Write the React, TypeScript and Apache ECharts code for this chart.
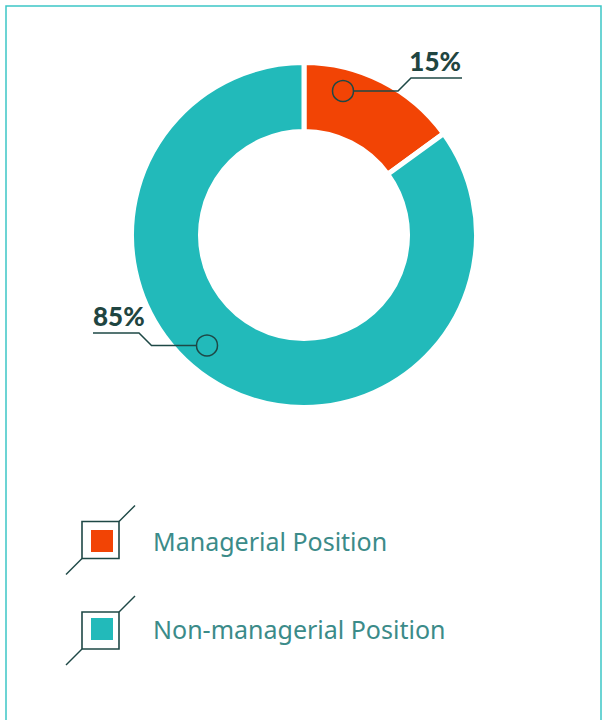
import React, { useEffect, useRef } from "react";
import * as echarts from "echarts";

const categories = ["Managerial Position", "Non-managerial Position"];
const values = [15, 85];
const colors = ["#f24405", "#22baba"];

const LINE = "#1e4846";
const LABEL = "#1f4541";
const LEGEND_TEXT = "#3b8b89";

export default function App() {
  const ref = useRef<HTMLDivElement>(null);
  useEffect(() => {
    if (!ref.current) return;
    const chart = echarts.init(ref.current, undefined, { renderer: "svg" });
    const labelText = values.map((v) => `${v}%`);
    const frame = (cy: number) => [
      {
        type: "rect",
        z: 100,
        shape: { x: 82, y: cy - 18.5, width: 37, height: 37 },
        style: { fill: "none", stroke: LINE, lineWidth: 1.6 },
        silent: true,
      },
      {
        type: "line",
        z: 100,
        shape: { x1: 119, y1: cy - 18.5, x2: 135, y2: cy - 34.5 },
        style: { stroke: LINE, lineWidth: 1.4 },
        silent: true,
      },
      {
        type: "line",
        z: 100,
        shape: { x1: 82, y1: cy + 18.5, x2: 66, y2: cy + 34.5 },
        style: { stroke: LINE, lineWidth: 1.4 },
        silent: true,
      },
    ];
    chart.setOption({
      animation: false,
      backgroundColor: "#ffffff",
      legend: {
        orient: "vertical",
        left: 89,
        top: 528,
        padding: 0,
        itemWidth: 24,
        itemHeight: 24,
        itemGap: 62,
        icon: "rect",
        selectedMode: false,
        data: categories,
        textStyle: {
          color: LEGEND_TEXT,
          fontSize: 25,
          fontFamily: "Noto Sans",
          padding: [0, 0, 0, 34],
        },
      },
      series: [
        {
          type: "pie",
          center: [304, 235],
          radius: [103.5, 172.5],
          startAngle: 90,
          clockwise: true,
          label: { show: false },
          labelLine: { show: false },
          silent: true,
          itemStyle: { borderColor: "#ffffff", borderWidth: 5 },
          data: categories.map((name, i) => ({
            name,
            value: values[i],
            itemStyle: { color: colors[i] },
          })),
        },
      ],
      graphic: [
        {
          type: "rect",
          z: 100,
          shape: { x: 6, y: 6, width: 595, height: 740 },
          style: { fill: "none", stroke: "#3cc6c6", lineWidth: 1.5 },
          silent: true,
        },
        // 15% annotation
        {
          type: "circle",
          z: 100,
          shape: { cx: 343, cy: 91, r: 10.5 },
          style: { fill: "none", stroke: LINE, lineWidth: 1.5 },
          silent: true,
        },
        {
          type: "polyline",
          z: 100,
          shape: { points: [[353.5, 91], [398, 91], [411, 78], [462, 78]] },
          style: { fill: "none", stroke: LINE, lineWidth: 1.5 },
          silent: true,
        },
        {
          type: "text",
          z: 100,
          style: {
            text: labelText[0],
            x: 461,
            y: 74,
            align: "right",
            verticalAlign: "bottom",
            fill: LABEL,
            font: "900 26px Lato",
          },
          silent: true,
        },
        // 85% annotation
        {
          type: "circle",
          z: 100,
          shape: { cx: 207, cy: 345.5, r: 10.5 },
          style: { fill: "none", stroke: LINE, lineWidth: 1.5 },
          silent: true,
        },
        {
          type: "polyline",
          z: 100,
          shape: { points: [[93, 333], [139, 333], [151.5, 345.5], [196.5, 345.5]] },
          style: { fill: "none", stroke: LINE, lineWidth: 1.5 },
          silent: true,
        },
        {
          type: "text",
          z: 100,
          style: {
            text: labelText[1],
            x: 93,
            y: 329,
            align: "left",
            verticalAlign: "bottom",
            fill: LABEL,
            font: "900 26px Lato",
          },
          silent: true,
        },
        ...frame(540),
        ...frame(630.5),
      ],
    });
    return () => chart.dispose();
  }, []);
  return (
    <div
      ref={ref}
      style={{ position: "fixed", left: 0, top: 0, width: 603, height: 720 }}
    />
  );
}
